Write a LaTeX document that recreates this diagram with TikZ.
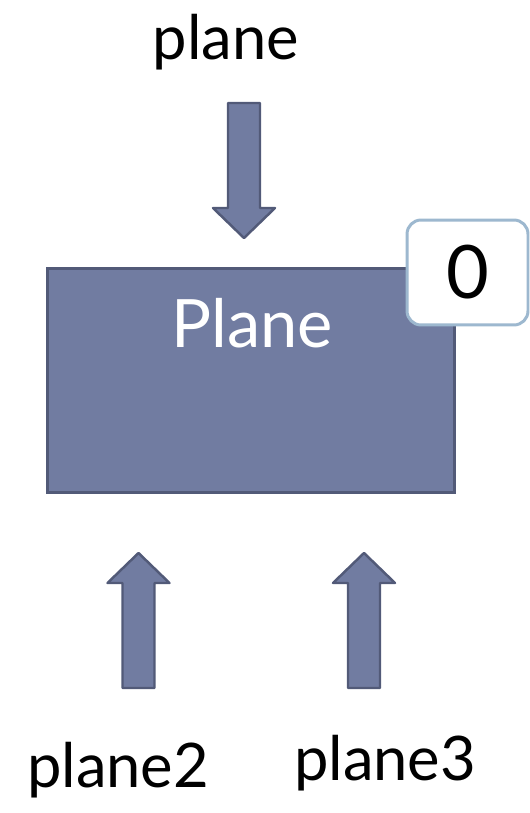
\documentclass[tikz,border=0pt]{standalone}
\usepackage{fontspec}
\setmainfont{Lato}
\usepackage{tikz}

\definecolor{boxfill}{HTML}{717CA1}
\definecolor{boxline}{HTML}{525A78}
\definecolor{badgeline}{HTML}{9DB8CF}

\begin{document}
\begin{tikzpicture}[x=0.02cm,y=-0.02cm,
    blockarrow/.style={draw=boxline,fill=boxfill,line width=1.4pt,line join=round},
    portlabel/.style={anchor=base,inner sep=0pt,font=\fontsize{35}{40}\selectfont}]

% page size in pixels of the reference
\useasboundingbox (0,0) rectangle (529,813);

% the block
\node (plane) [draw=boxline,fill=boxfill,line width=1.7pt,minimum width=8.16cm,minimum height=4.5cm,inner sep=0pt] at (251,380.5) {};
\node (planetitle) [anchor=base,inner sep=0pt,text=white,font=\fontsize{38}{44}\selectfont] at (252,348) {Plane};

% counter badge
\node (count) [draw=badgeline,fill=white,line width=1.7pt,rounded corners=8pt,minimum width=2.42cm,minimum height=2.1cm,inner sep=0pt,font=\fontsize{42}{46}\selectfont] at (467.5,272.5) {0};

% input on top
\node (in) [portlabel] at (226,60) {plane};
\draw [blockarrow] (228,103) -- (260,103) -- (260,208) -- (275,208) -- (244,238)
    -- (213,208) -- (228,208) -- cycle;

% inputs below
\node (in2) [portlabel] at (118,787) {plane2};
\node (in3) [portlabel] at (385,780) {plane3};
\foreach \cx in {138.5,364} {
    \draw [blockarrow] (\cx-16,688) -- (\cx-16,583) -- (\cx-31,583) -- (\cx,553)
        -- (\cx+31,583) -- (\cx+16,583) -- (\cx+16,688) -- cycle;
}

\end{tikzpicture}
\end{document}
